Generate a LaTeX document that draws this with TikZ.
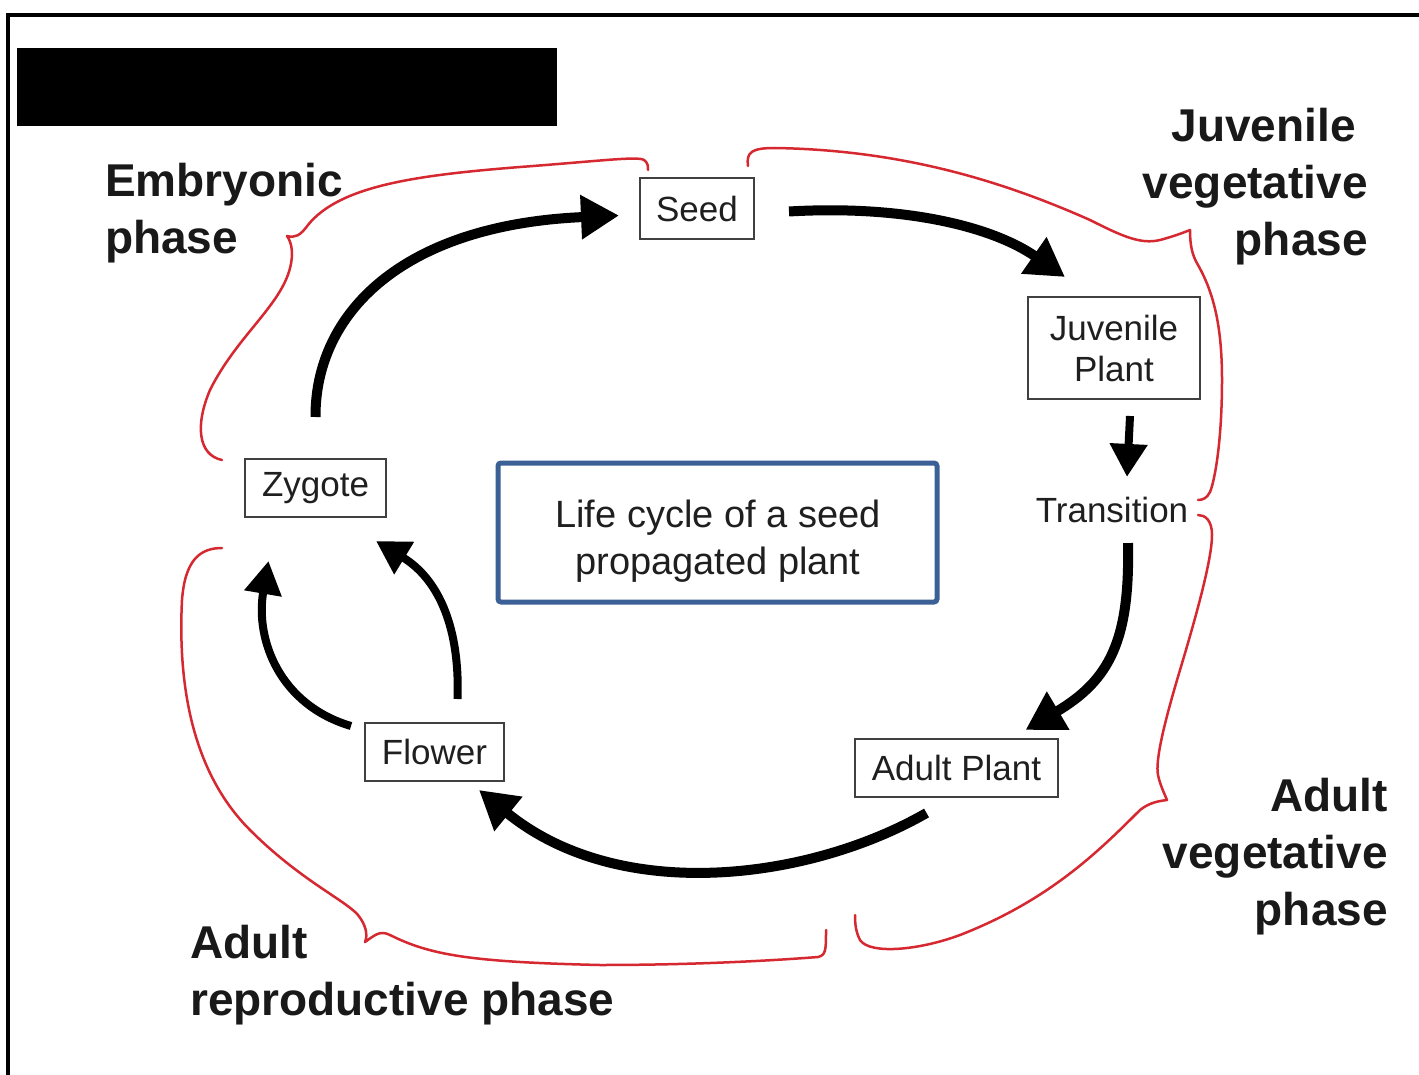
\documentclass[tikz,border=0pt]{standalone}
\usepackage{fontspec}
\setmainfont{Liberation Sans}
\usetikzlibrary{arrows.meta}
\definecolor{bracered}{RGB}{214,40,48}
\definecolor{titleblue}{RGB}{58,96,150}
\begin{document}
\begin{tikzpicture}[x=1pt,y=-1pt,
  box/.style={draw=black!75, line width=2pt, fill=white, inner sep=0pt,
    font=\fontsize{35}{41}\selectfont, text=black!88},
  lbl/.style={font=\fontsize{46}{57}\selectfont\bfseries, inner sep=0pt, text=black!90},
  arr/.style={line width=10pt, -{Triangle[length=38pt,width=42pt]}},
  arrs/.style={line width=8pt, -{Triangle[length=33pt,width=36pt]}},
  brace/.style={draw=bracered, line width=2.5pt, line cap=round, line join=round}]
\useasboundingbox (0,0) rectangle (1419,1075);
\fill[white] (0,0) rectangle (1419,1075);
% frame
\draw[line width=4.5pt] (8,1080) -- (8,15) -- (1425,15);
% black bar
\fill[black] (17,48) rectangle (557,126);

% nodes
\node[box, minimum width=114pt, minimum height=61pt] (seed) at (697,208.5) {Seed};
\node[box, minimum width=172pt, minimum height=102pt, align=center] (juv) at (1114,348) {Juvenile\\Plant};
\node[font=\fontsize{35}{41}\selectfont, inner sep=0pt, text=black!88] (trans) at (1112,510) {Transition};
\node[box, minimum width=141pt, minimum height=58pt] (zyg) at (315.5,488) {Zygote};
\node[box, minimum width=139pt, minimum height=58pt] (flow) at (434.5,752) {Flower};
\node[box, minimum width=203pt, minimum height=58pt] (adult) at (956.5,768) {Adult Plant};
\node[draw=titleblue, line width=5pt, rounded corners=3pt, minimum width=439pt, minimum height=139pt] (title) at (717.5,532.5) {};
\node[font=\fontsize{38}{47}\selectfont, align=center, inner sep=0pt, text=black!88] (titletxt) at (718,541) {Life cycle of a seed\\propagated plant};

% phase labels
\node[lbl, anchor=north west, align=left] (emb) at (105,163) {Embryonic\\phase};
\node[lbl, anchor=north east, align=right] (juvph) at (1368,108) {Juvenile\hspace*{12pt}\\vegetative\\phase};
\node[lbl, anchor=north east, align=right] (advph) at (1388,778) {Adult\\vegetative\\phase};
\node[lbl, anchor=north west, align=left] (adrph) at (190,925) {Adult\\reproductive phase};

% arrows
\draw[arr] ([shift={(0,-41)}]zyg.north) .. controls (315,315) and (400,225) .. ([shift={(-20,7)}]seed.west);
\draw[arr] ([shift={(34,3)}]seed.east) .. controls (900,205) and (990,225) .. ([shift={(-49,-19)}]juv.north);
\draw[arrs] ([shift={(16,16)}]juv.south) -- ([shift={(15,-20)}]trans.north);
\draw[arr] ([shift={(16,20)}]trans.south) .. controls (1130,640) and (1110,680) .. ([shift={(69,-8)}]adult.north);
\draw[arr] ([shift={(-30,15)}]adult.south) .. controls (810,880) and (620,905) .. ([shift={(-26,8)}]flow.south east);
\draw[arrs] ([shift={(-13,4)}]flow.north west) .. controls (280,705) and (255,640) .. ([shift={(-47,43)}]zyg.south);
\draw[arrs] ([shift={(23,-23)}]flow.north) .. controls (460,630) and (440,580) .. ([shift={(-11,23)}]zyg.south east);

% red braces
% embryonic
\draw[brace] (222,460) .. controls (198,455) and (195,425) .. (210,390)
  .. controls (240,330) and (290,300) .. (292,255)
  .. controls (292,246) and (290,240) .. (287,236)
  .. controls (295,238) and (300,236) .. (308,225)
  .. controls (340,185) and (420,175) .. (520,167)
  .. controls (600,161) and (638,156) .. (644,160)
  .. controls (648,163) and (648,166) .. (648,170);
% juvenile vegetative
\draw[brace] (748,166) .. controls (746,152) and (752,148) .. (775,148)
  .. controls (900,150) and (1000,180) .. (1090,220)
  .. controls (1120,235) and (1140,245) .. (1160,240)
  .. controls (1175,236) and (1185,232) .. (1190,230)
  .. controls (1190,245) and (1192,255) .. (1198,265)
  .. controls (1215,295) and (1222,330) .. (1222,380)
  .. controls (1222,440) and (1215,480) .. (1210,492)
  .. controls (1207,498) and (1203,500) .. (1198,500);
% adult vegetative
\draw[brace] (1198,515) .. controls (1205,515) and (1212,520) .. (1212,535)
  .. controls (1212,560) and (1195,620) .. (1180,670)
  .. controls (1165,720) and (1155,760) .. (1158,775)
  .. controls (1160,785) and (1165,795) .. (1167,800)
  .. controls (1160,801) and (1150,802) .. (1140,810)
  .. controls (1100,850) and (1050,900) .. (960,935)
  .. controls (920,950) and (870,955) .. (860,940)
  .. controls (856,932) and (855,925) .. (855,915);
% adult reproductive
\draw[brace] (222,548) .. controls (200,548) and (185,560) .. (182,600)
  .. controls (178,680) and (190,770) .. (250,830)
  .. controls (300,880) and (345,900) .. (358,915)
  .. controls (366,925) and (368,935) .. (365,942)
  .. controls (375,935) and (380,930) .. (390,935)
  .. controls (430,955) and (470,962) .. (600,965)
  .. controls (700,965) and (780,960) .. (818,957)
  .. controls (826,955) and (826,950) .. (826,930);
\end{tikzpicture}
\end{document}
